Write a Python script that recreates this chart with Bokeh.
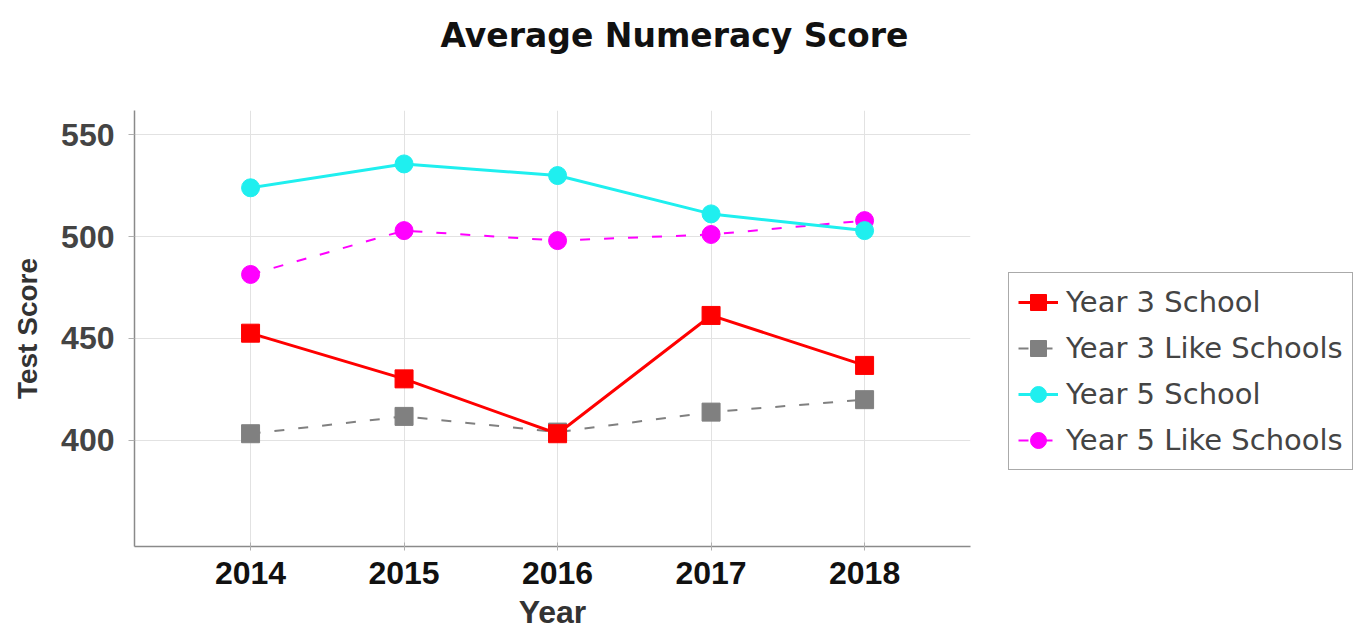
from bokeh.plotting import figure
from bokeh.models import Legend, LegendItem, FixedTicker, Range1d, Title
from bokeh.embed import file_html
from bokeh.resources import INLINE

years = [2014, 2015, 2016, 2017, 2018]
year3_school = [452.6, 430.2, 403.3, 461.3, 436.8]
year3_like = [403.3, 411.8, 404.1, 413.9, 420.0]
year5_school = [523.9, 535.6, 529.9, 511.1, 502.9]
year5_like = [481.4, 502.9, 498.0, 501.0, 507.8]
y_ticks = [400, 450, 500, 550]

p = figure(frame_width=836, frame_height=436, output_backend="svg", toolbar_location=None, title=None,
           x_range=Range1d(2013.244, 2018.69), y_range=Range1d(348.0, 561.8),
           min_border_left=134, min_border_right=389, min_border_top=110, min_border_bottom=87)
p.outline_line_color = None
p.background_fill_color = "white"
p.border_fill_color = "white"

spacer = Title(text=" ", text_font_size="10px", standoff=43)
p.add_layout(spacer, "above")
title = Title(text="Average Numeracy Score", text_font="DejaVu Sans", text_font_size="33px",
              text_font_style="bold", text_color="#111111", align="left", offset=306, standoff=0)
p.add_layout(title, "above")

# grids
p.xgrid.ticker = FixedTicker(ticks=years)
p.ygrid.ticker = FixedTicker(ticks=y_ticks)
p.xgrid.grid_line_color = "#E2E2E2"
p.ygrid.grid_line_color = "#E2E2E2"

# axes
p.xaxis.ticker = FixedTicker(ticks=years)
p.yaxis.ticker = FixedTicker(ticks=y_ticks)
p.xaxis.minor_tick_line_color = None
p.yaxis.minor_tick_line_color = None
p.xaxis.axis_label = "Year"
p.yaxis.axis_label = "Test Score"
for ax in (p.xaxis, p.yaxis):
    ax.axis_line_color = "#8A8A8A"
    ax.axis_line_width = 1.5
    ax.major_tick_line_color = "#B0B0B0"
    ax.major_label_text_font = "Liberation Sans"
    ax.major_label_text_font_size = "32px"
    ax.major_label_text_font_style = "bold"
    ax.axis_label_text_font = "Liberation Sans"
    ax.axis_label_text_font_style = "bold"
    ax.axis_label_text_color = "#333333"
p.yaxis.axis_label_text_font_size = "28px"
p.xaxis.axis_label_text_font_size = "32px"
p.xaxis.major_label_text_color = "#111111"
p.yaxis.major_label_text_color = "#444444"
p.yaxis.major_tick_in = 0
p.yaxis.major_tick_out = 6
p.xaxis.major_tick_in = 4
p.xaxis.major_tick_out = 4
p.yaxis.major_label_standoff = 14
p.yaxis.axis_label_standoff = 15
p.xaxis.major_label_standoff = 11
p.xaxis.axis_label_standoff = 7

# series (comparison series drawn first so school series sit on top)
r2l = p.line(years, year3_like, line_color="#808080", line_width=2, line_dash="10 14")
r2m = p.scatter(years, year3_like, marker="square", size=18, fill_color="#808080", line_color="#808080")
r4l = p.line(years, year5_like, line_color="#FF00FF", line_width=2, line_dash="10 14")
r4m = p.scatter(years, year5_like, marker="circle", size=18, fill_color="#FF00FF", line_color="#FF00FF")
r1l = p.line(years, year3_school, line_color="#FF0000", line_width=3)
r1m = p.scatter(years, year3_school, marker="square", size=18, fill_color="#FF0000", line_color="#FF0000")
r3l = p.line(years, year5_school, line_color="#1FEFEF", line_width=3)
r3m = p.scatter(years, year5_school, marker="circle", size=18, fill_color="#1FEFEF", line_color="#1FEFEF")

legend = Legend(items=[
    LegendItem(label="Year 3 School", renderers=[r1l, r1m]),
    LegendItem(label="Year 3 Like Schools", renderers=[r2l, r2m]),
    LegendItem(label="Year 5 School", renderers=[r3l, r3m]),
    LegendItem(label="Year 5 Like Schools", renderers=[r4l, r4m]),
], location=(38, 76))
legend.label_text_font = "DejaVu Sans"
legend.label_text_font_size = "29px"
legend.label_text_color = "#444444"
legend.label_height = 40
legend.glyph_height = 40
legend.glyph_width = 40
legend.label_standoff = 8
legend.spacing = 6
legend.padding = 9
legend.margin = 0
legend.border_line_color = "#555555"
legend.border_line_width = 1.5
legend.background_fill_color = "white"
legend.background_fill_alpha = 1.0
p.add_layout(legend, "right")

open("out.html", "w").write(file_html(p, INLINE))
